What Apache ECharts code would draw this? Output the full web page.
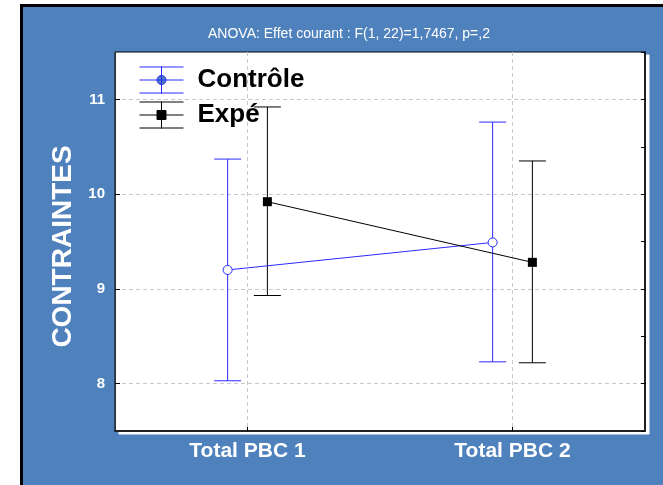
<!DOCTYPE html>
<html>
<head>
<meta charset="utf-8">
<title>ANOVA</title>
<script src="https://cdn.jsdelivr.net/npm/echarts@6/dist/echarts.min.js"></script>
<style>
  body { margin:0; background:#fff; }
  .wrap { position:relative; width:663px; height:485px; overflow:hidden; }
  .frame { position:absolute; left:20px; top:4px; width:660px; height:500px; background:#4f81bd;
           border-left:3px solid #000; border-top:3px solid #000; box-sizing:border-box; }
  #main { position:absolute; left:0; top:0; width:663px; height:485px; }
</style>
</head>
<body>
<div class="wrap">
  <div class="frame"></div>
  <div id="main"></div>
</div>
<script>
// data
var categories = ['Total PBC 1', 'Total PBC 2'];
var yTicks = [8, 9, 10, 11];
var ctrlMean = [9.20, 9.49];
var ctrlLow  = [8.03, 8.23];
var ctrlHigh = [10.37, 10.76];
var expMean  = [9.92, 9.28];
var expLow   = [8.93, 8.22];
var expHigh  = [10.92, 10.35];

var BLUE = '#2a2aff';
var dodge = 0.075;   // side offset of the two groups around each category
var catPos = categories.map(function (c, i) { return i + 1; });

function pts(mean, off) {
  return mean.map(function (v, i) { return [catPos[i] + off, v]; });
}
function bars(low, high, off) {
  return low.map(function (v, i) { return [catPos[i] + off, v, high[i]]; });
}
function barRenderer(color) {
  return function (params, api) {
    var x = api.value(0);
    var lo = api.coord([x, api.value(1)]);
    var hi = api.coord([x, api.value(2)]);
    var h = 13.5;
    var st = { stroke: color, lineWidth: 1 };
    return { type: 'group', children: [
      { type: 'line', shape: { x1: lo[0], y1: lo[1], x2: hi[0], y2: hi[1] }, style: st },
      { type: 'line', shape: { x1: hi[0] - h, y1: hi[1], x2: hi[0] + h, y2: hi[1] }, style: st },
      { type: 'line', shape: { x1: lo[0] - h, y1: lo[1], x2: lo[0] + h, y2: lo[1] }, style: st }
    ]};
  };
}

var iconCtrl = 'path://M0 0.5H44M0 13.5H44M0 26.5H44M22 0V27M17.5 13.5A4.5 4.5 0 1 0 26.5 13.5A4.5 4.5 0 1 0 17.5 13.5Z';
var iconExp  = 'path://M0 0.5H44M0 13.5H44M0 26.5H44M22 0V27M17.5 9H26.5V18H17.5Z';

var myChart = echarts.init(document.getElementById('main'));
var option = {
  backgroundColor: 'transparent',
  animation: false,
  textStyle: { fontFamily: 'Liberation Sans, Arial, sans-serif' },
  title: {
    text: 'ANOVA: Effet courant : F(1, 22)=1,7467, p=,2',
    left: 208, top: 27, padding: 0,
    textStyle: { color: '#fff', fontSize: 14, fontWeight: 'normal' }
  },
  legend: {
    orient: 'vertical',
    left: 139, top: 66, padding: 0,
    itemWidth: 44, itemHeight: 27, itemGap: 7,
    textStyle: { color: '#000', fontSize: 26, fontWeight: 'bold', lineHeight: 27, padding: [0, 0, 0, 9] },
    data: [
      { name: 'Contrôle', icon: iconCtrl, itemStyle: { color: '#4f81bd', borderColor: BLUE, borderWidth: 1 } },
      { name: 'Expé', icon: iconExp, itemStyle: { color: '#000', borderColor: '#000', borderWidth: 1 } }
    ]
  },
  grid: {
    left: 115, top: 52, right: 18, bottom: 54,
    show: true, backgroundColor: '#fff', borderColor: '#000', borderWidth: 1,
    shadowColor: '#fff', shadowBlur: 0, shadowOffsetX: 4, shadowOffsetY: 3
  },
  xAxis: [{
    type: 'value', min: 0.5, max: 2.5,
    axisLine: { lineStyle: { color: '#222', width: 2 } },
    axisTick: { inside: true, length: 4, lineStyle: { color: '#000' }, customValues: catPos },
    axisLabel: {
      customValues: catPos, margin: 10,
      color: '#fff', fontSize: 21, fontWeight: 'bold',
      formatter: function (v) { return categories[Math.round(v) - 1]; }
    },
    splitLine: { show: true, lineStyle: { color: '#c8c8c8', type: [4, 3] } }
  }],
  yAxis: [{
    type: 'value', min: 7.5, max: 11.5,
    name: 'CONTRAINTES', nameLocation: 'middle', nameGap: 37,
    nameTextStyle: { color: '#fff', fontSize: 28, fontWeight: 'bold', padding: [0, 10, 0, 0] },
    axisLine: { show: true, lineStyle: { color: '#333', width: 1 } },
    axisTick: { show: true, inside: true, length: 5, lineStyle: { color: '#000' }, customValues: yTicks },
    axisLabel: { customValues: yTicks, margin: 10, color: '#fff', fontSize: 15, fontWeight: 'bold' },
    splitLine: { show: true, lineStyle: { color: '#c8c8c8', type: [4, 3] } }
  }, {
    type: 'value', position: 'right', min: 7.5, max: 11.5, interval: 0.5,
    axisLine: { show: true, lineStyle: { color: '#000', width: 1.5 } },
    axisTick: { show: true, inside: true, length: 4, lineStyle: { color: '#000' } },
    axisLabel: { show: false },
    splitLine: { show: false }
  }],
  series: [
    {
      name: 'Contrôle', type: 'line', z: 4,
      data: pts(ctrlMean, -dodge),
      symbol: 'circle', symbolSize: 9,
      itemStyle: { color: '#fff', borderColor: BLUE, borderWidth: 1 },
      lineStyle: { color: BLUE, width: 1 }
    },
    {
      name: 'Expé', type: 'line', z: 4,
      data: pts(expMean, dodge),
      symbol: 'rect', symbolSize: 9,
      itemStyle: { color: '#000' },
      lineStyle: { color: '#000', width: 1 }
    },
    {
      name: 'Contrôle ET', type: 'custom', z: 3,
      data: bars(ctrlLow, ctrlHigh, -dodge),
      renderItem: barRenderer(BLUE)
    },
    {
      name: 'Expé ET', type: 'custom', z: 3,
      data: bars(expLow, expHigh, dodge),
      renderItem: barRenderer('#000')
    }
  ]
};
myChart.setOption(option);
</script>
</body>
</html>
